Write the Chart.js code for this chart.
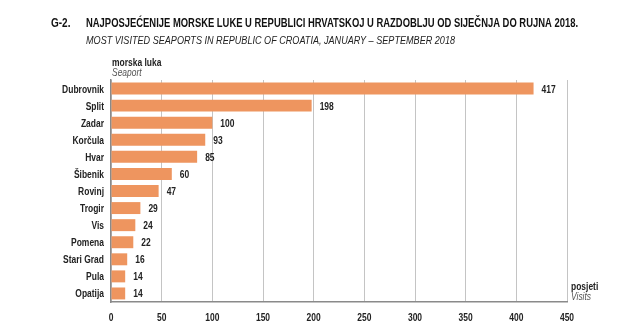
<!DOCTYPE html>
<html>
<head>
<meta charset="utf-8">
<script src="https://cdn.jsdelivr.net/npm/chart.js@4/dist/chart.umd.min.js"></script>
<style>
  html, body { margin: 0; padding: 0; background: #fff; }
  #wrap { position: relative; width: 623px; height: 330px; }
</style>
</head>
<body>
<div id="wrap"><canvas id="portsChart" width="623" height="330"></canvas></div>
<script>
const luke = ['Dubrovnik', 'Split', 'Zadar', 'Korčula', 'Hvar', 'Šibenik', 'Rovinj', 'Trogir', 'Vis', 'Pomena', 'Stari Grad', 'Pula', 'Opatija'];
const posjeti = [417, 198, 100, 93, 85, 60, 47, 29, 24, 22, 16, 14, 14];
const xTicks = [0, 50, 100, 150, 200, 250, 300, 350, 400, 450];

const FONT = '"Liberation Sans", Arial, sans-serif';
const BAR = '#ee955f';
const SQUEEZE = 0.77; // uski font kao u originalu

function txt(c, s, x, y, align, font, color) {
  c.save();
  c.font = font;
  c.fillStyle = color;
  c.textAlign = align;
  c.translate(x, y);
  c.scale(SQUEEZE, 1);
  c.fillText(s, 0, 0);
  c.restore();
}

// naslovi, oznake osi i vrijednosti
const textPlugin = {
  id: 'texts',
  afterDraw(chart) {
    const c = chart.ctx;
    const a = chart.chartArea;
    c.save();
    c.textBaseline = 'alphabetic';
    txt(c, 'G-2.', 51, 27, 'left', 'bold 13px ' + FONT, '#111');
    c.font = 'bold 13px ' + FONT;
    c.fillStyle = '#111';
    c.fillText('NAJPOSJEĆENIJE MORSKE LUKE U REPUBLICI HRVATSKOJ U RAZDOBLJU OD SIJEČNJA DO RUJNA 2018.', 86, 27, 492);
    c.font = 'italic 11.5px ' + FONT;
    c.fillStyle = '#222';
    c.fillText('MOST VISITED SEAPORTS IN REPUBLIC OF CROATIA, JANUARY – SEPTEMBER 2018', 86, 44, 369);

    txt(c, 'morska luka', a.left + 1, 66, 'left', 'bold 11px ' + FONT, '#222');
    txt(c, 'Seaport', a.left + 1, 76, 'left', 'italic 11px ' + FONT, '#555');
    txt(c, 'posjeti', a.right + 4, 290, 'left', 'bold 11px ' + FONT, '#222');
    txt(c, 'Visits', a.right + 4, 300, 'left', 'italic 11px ' + FONT, '#555');

    c.textBaseline = 'middle';
    const ys = chart.scales.y;
    luke.forEach((l, i) => {
      txt(c, l, a.left - 7, ys.getPixelForTick(i) + 1, 'right', 'bold 11px ' + FONT, '#222');
    });
    const xs = chart.scales.x;
    xTicks.forEach(v => {
      txt(c, String(v), xs.getPixelForValue(v), 318, 'center', 'bold 11px ' + FONT, '#222');
    });
    const meta = chart.getDatasetMeta(0);
    meta.data.forEach((bar, i) => {
      txt(c, String(posjeti[i]), bar.x + 8, bar.y + 1, 'left', 'bold 11px ' + FONT, '#222');
    });
    c.restore();
  }
};

new Chart(document.getElementById('portsChart'), {
  type: 'bar',
  data: {
    labels: luke,
    datasets: [{
      data: posjeti,
      backgroundColor: BAR,
      borderWidth: 0,
      categoryPercentage: 1,
      barPercentage: 0.7
    }]
  },
  options: {
    indexAxis: 'y',
    responsive: false,
    animation: false,
    layout: { padding: { top: 80, right: 56, left: 0, bottom: 0 } },
    plugins: { legend: { display: false }, tooltip: { enabled: false } },
    scales: {
      x: {
        min: 0, max: 450,
        afterBuildTicks: s => { s.ticks = xTicks.map(v => ({ value: v })); },
        afterFit: s => { s.height = 28; },
        grid: { color: '#c4c4c4', lineWidth: 1, drawTicks: false },
        border: { color: '#8a8a8a', width: 1.5 },
        ticks: { display: false }
      },
      y: {
        afterFit: s => { s.width = 111; },
        grid: { display: false, drawTicks: false },
        border: { color: '#8a8a8a', width: 1.5 },
        ticks: { display: false }
      }
    }
  },
  plugins: [textPlugin]
});
</script>
</body>
</html>
